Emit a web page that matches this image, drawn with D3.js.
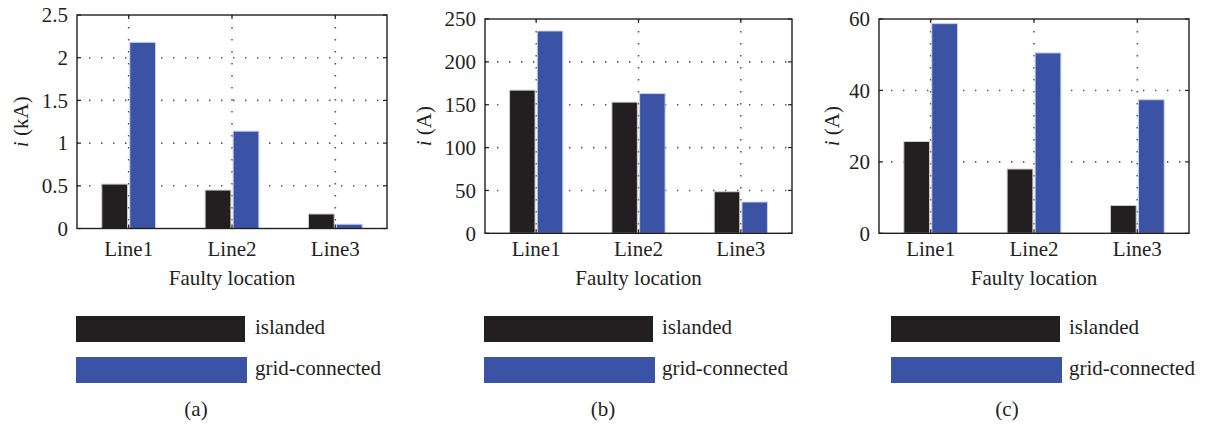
<!DOCTYPE html>
<html>
<head>
<meta charset="utf-8">
<script src="https://cdn.jsdelivr.net/npm/d3@7"></script>
<style>
  html, body { margin: 0; padding: 0; background: #fff; }
  svg { display: block; }
  text { font-family: "Liberation Serif", "Times New Roman", serif; fill: #231f20; }
</style>
</head>
<body>
<svg id="chart" width="1205" height="425"></svg>
<script>
// ---- data ----
const categories = ["Line1", "Line2", "Line3"];
const seriesNames = ["islanded", "grid-connected"];

const islandedA = [0.52, 0.45, 0.17];
const gridA     = [2.18, 1.14, 0.05];
const islandedB = [167, 153, 48.5];
const gridB     = [236, 163, 36.5];
const islandedC = [25.7, 18.0, 7.8];
const gridC     = [58.7, 50.5, 37.4];

const ticksA = [0, 0.5, 1, 1.5, 2, 2.5];
const tickLabelsA = ["0", "0.5", "1", "1.5", "2", "2.5"];
const ticksB = [0, 50, 100, 150, 200, 250];
const tickLabelsB = ["0", "50", "100", "150", "200", "250"];
const ticksC = [0, 20, 40, 60];
const tickLabelsC = ["0", "20", "40", "60"];

const units = ["kA", "A", "A"];
const captions = ["(a)", "(b)", "(c)"];
const xTitle = "Faulty location";

// ---- layout ----
const FS = 21;
const colors = ["#231f20", "#3a53a4"];
const panels = [
  { isl: islandedA, grid: gridA, ticks: ticksA, labels: tickLabelsA, unit: units[0], cap: captions[0],
    left: 77, top: 15, right: 387, bottom: 228.5, ylabX: 22, legX: 76, legTextX: 255, capX: 196 },
  { isl: islandedB, grid: gridB, ticks: ticksB, labels: tickLabelsB, unit: units[1], cap: captions[1],
    left: 485, top: 19, right: 792, bottom: 233.3, ylabX: 425, legX: 484, legTextX: 662, capX: 603 },
  { isl: islandedC, grid: gridC, ticks: ticksC, labels: tickLabelsC, unit: units[2], cap: captions[2],
    left: 879, top: 19, right: 1189, bottom: 233.3, ylabX: 833, legX: 891, legTextX: 1069, capX: 1007 }
];

const svg = d3.select("#chart");

panels.forEach(p => {
  const g = svg.append("g");
  const x0 = d3.scaleBand().domain(categories).range([p.left, p.right]).padding(0);
  const bw = x0.bandwidth();
  const x1 = d3.scaleBand().domain(seriesNames).range([bw * 0.24, bw * 0.76]).paddingInner(0.08);
  const y = d3.scaleLinear().domain([p.ticks[0], p.ticks[p.ticks.length - 1]]).range([p.bottom, p.top]);

  // grid lines
  const gridG = g.append("g").attr("stroke", "#555").attr("stroke-width", 1.6)
    .attr("stroke-dasharray", "1.4,10.6");
  p.ticks.slice(1, -1).forEach(t => {
    gridG.append("line").attr("x1", p.left).attr("x2", p.right).attr("y1", y(t)).attr("y2", y(t));
  });
  categories.forEach(c => {
    const cx = x0(c) + bw / 2;
    gridG.append("line").attr("x1", cx).attr("x2", cx).attr("y1", p.top).attr("y2", p.bottom);
  });

  // bars
  const rows = categories.map((c, i) => ({ cat: c, vals: [p.isl[i], p.grid[i]] }));
  const grp = g.selectAll("g.cat").data(rows).join("g").attr("class", "cat")
    .attr("transform", d => `translate(${x0(d.cat)},0)`);
  grp.selectAll("rect").data(d => d.vals.map((v, k) => ({ k, v })))
    .join("rect")
    .attr("x", d => x1(seriesNames[d.k]))
    .attr("width", x1.bandwidth())
    .attr("y", d => y(d.v))
    .attr("height", d => y(0) - y(d.v))
    .attr("fill", d => colors[d.k])
    .attr("stroke", d => d.k === 0 ? "#cfcfcf" : "#c9d0ea")
    .attr("stroke-width", 1);

  // frame
  g.append("rect").attr("x", p.left).attr("y", p.top)
    .attr("width", p.right - p.left).attr("height", p.bottom - p.top)
    .attr("fill", "none").attr("stroke", "#231f20").attr("stroke-width", 1.4);

  // inward ticks
  const tk = g.append("g").attr("stroke", "#231f20").attr("stroke-width", 1.2);
  p.ticks.forEach(t => {
    tk.append("line").attr("x1", p.left).attr("x2", p.left + 4).attr("y1", y(t)).attr("y2", y(t));
    tk.append("line").attr("x1", p.right).attr("x2", p.right - 4).attr("y1", y(t)).attr("y2", y(t));
  });
  categories.forEach(c => {
    const cx = x0(c) + bw / 2;
    tk.append("line").attr("x1", cx).attr("x2", cx).attr("y1", p.bottom).attr("y2", p.bottom - 4);
    tk.append("line").attr("x1", cx).attr("x2", cx).attr("y1", p.top).attr("y2", p.top + 4);
  });

  // y tick labels via axis
  const yAxis = d3.axisLeft(y).tickValues(p.ticks)
    .tickFormat((d, i) => p.labels[i]).tickSize(0).tickPadding(9);
  const ya = g.append("g").attr("transform", `translate(${p.left},0)`).call(yAxis);
  ya.select(".domain").remove();
  ya.selectAll("text").attr("font-size", FS).attr("font-family", "Liberation Serif, serif").attr("fill", "#231f20");

  // x tick labels
  g.selectAll("text.xt").data(categories).join("text").attr("class", "xt")
    .attr("x", d => x0(d) + bw / 2).attr("y", 256)
    .attr("text-anchor", "middle").attr("font-size", FS).text(d => d);

  // x title
  g.append("text").attr("x", (p.left + p.right) / 2).attr("y", 285)
    .attr("text-anchor", "middle").attr("font-size", FS).text(xTitle);

  // y title
  const yt = g.append("text")
    .attr("transform", `translate(${p.ylabX + 6},${(p.top + p.bottom) / 2}) rotate(-90)`)
    .attr("text-anchor", "middle").attr("font-size", FS);
  yt.append("tspan").attr("font-style", "italic").text("i");
  yt.append("tspan").text(` (${p.unit})`);

  // legend
  const leg = g.append("g");
  seriesNames.forEach((s, k) => {
    const ry = k === 0 ? 316 : 357;
    leg.append("rect").attr("x", p.legX).attr("y", ry)
      .attr("width", k === 0 ? 169 : 171).attr("height", 26)
      .attr("fill", colors[k]);
    leg.append("text").attr("x", p.legTextX).attr("y", ry + 18)
      .attr("font-size", FS).text(s);
  });

  // caption
  g.append("text").attr("x", p.capX).attr("y", 416)
    .attr("text-anchor", "middle").attr("font-size", FS).text(p.cap);
});
</script>
</body>
</html>
